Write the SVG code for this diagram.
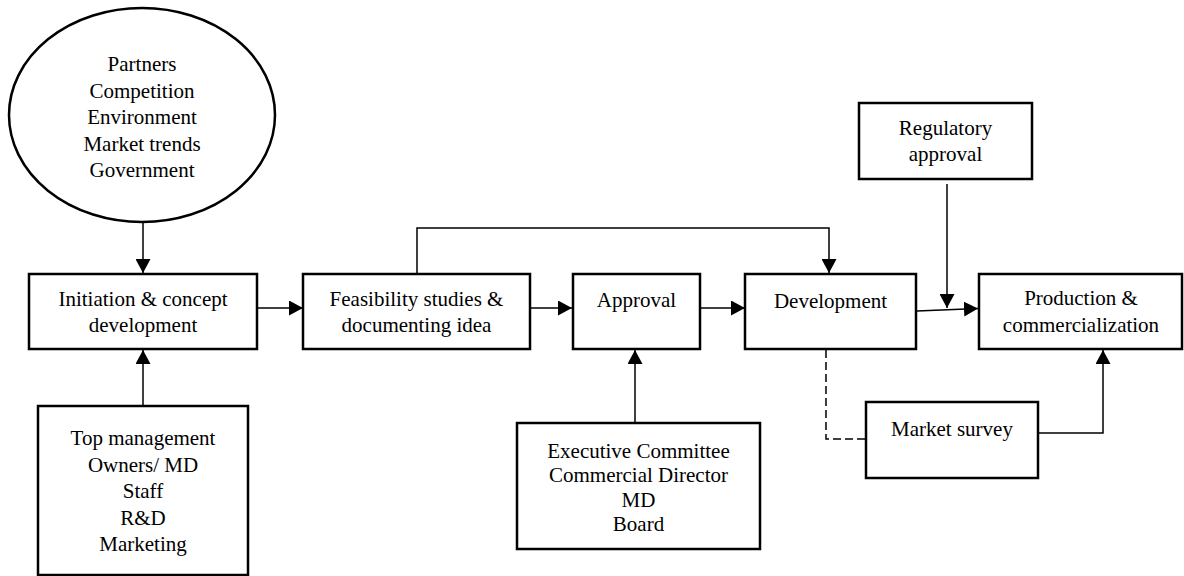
<svg xmlns="http://www.w3.org/2000/svg" width="1184" height="576" viewBox="0 0 1184 576">
  <style>
    .box { fill: #fff; stroke: #000; stroke-width: 2.5; }
    .lbl { font-family: "Liberation Serif", "Times New Roman", serif; font-size: 21px; fill: #000; text-anchor: middle; }
    .conn { fill: none; stroke: #000; stroke-width: 1.5; }
    .dash { stroke-dasharray: 8 4; }
  </style>
  <defs>
    <marker id="arrow" markerUnits="userSpaceOnUse" markerWidth="15" markerHeight="15" refX="14" refY="7.5" orient="auto">
      <path d="M0,0 L14,7.5 L0,15 Z" fill="#000"/>
    </marker>
  </defs>
  <rect width="1184" height="576" fill="#fff"/>

  <!-- connectors -->
  <g id="connectors">
    <path class="conn" d="M143,222 V273" marker-end="url(#arrow)"/>
    <path class="conn" d="M143,406 V350" marker-end="url(#arrow)"/>
    <path class="conn" d="M257,308 H303" marker-end="url(#arrow)"/>
    <path class="conn" d="M530,308 H572" marker-end="url(#arrow)"/>
    <path class="conn" d="M700,308 H745" marker-end="url(#arrow)"/>
    <path class="conn" d="M417,274 V228 H829 V273" marker-end="url(#arrow)"/>
    <path class="conn" d="M917,311 L978,308.5" marker-end="url(#arrow)"/>
    <path class="conn" d="M947,184 V308" marker-end="url(#arrow)"/>
    <path class="conn" d="M635,423 V350" marker-end="url(#arrow)"/>
    <path class="conn" d="M1038,433 H1103 V350" marker-end="url(#arrow)"/>
    <path class="conn dash" d="M826,350 V439 H866"/>
  </g>

  <!-- external factors -->
  <g id="external-factors">
    <ellipse class="box" cx="142" cy="115" rx="133" ry="107"/>
    <text class="lbl" x="142" y="71">Partners</text>
    <text class="lbl" x="142" y="97.5">Competition</text>
    <text class="lbl" x="142" y="124">Environment</text>
    <text class="lbl" x="142" y="150.5">Market trends</text>
    <text class="lbl" x="142" y="177">Government</text>
  </g>

  <g id="initiation">
    <rect class="box" x="29" y="274" width="228" height="75"/>
    <text class="lbl" x="143" y="306">Initiation &amp; concept</text>
    <text class="lbl" x="143" y="332">development</text>
  </g>

  <g id="internal-actors">
    <rect class="box" x="38" y="406" width="210" height="169"/>
    <text class="lbl" x="143" y="445">Top management</text>
    <text class="lbl" x="143" y="471.5">Owners/ MD</text>
    <text class="lbl" x="143" y="498">Staff</text>
    <text class="lbl" x="143" y="524.5">R&amp;D</text>
    <text class="lbl" x="143" y="551">Marketing</text>
  </g>

  <g id="feasibility">
    <rect class="box" x="303" y="274" width="227" height="75"/>
    <text class="lbl" x="416.5" y="306">Feasibility studies &amp;</text>
    <text class="lbl" x="416.5" y="332">documenting idea</text>
  </g>

  <g id="approval">
    <rect class="box" x="573" y="274" width="127" height="75"/>
    <text class="lbl" x="636.5" y="307">Approval</text>
  </g>

  <g id="approvers">
    <rect class="box" x="517" y="423" width="243" height="126"/>
    <text class="lbl" x="638.5" y="458">Executive Committee</text>
    <text class="lbl" x="638.5" y="482">Commercial Director</text>
    <text class="lbl" x="638.5" y="506.5">MD</text>
    <text class="lbl" x="638.5" y="531">Board</text>
  </g>

  <g id="development">
    <rect class="box" x="745" y="274" width="171" height="75"/>
    <text class="lbl" x="830.5" y="308">Development</text>
  </g>

  <g id="regulatory-approval">
    <rect class="box" x="859" y="103" width="173" height="76"/>
    <text class="lbl" x="945.5" y="135">Regulatory</text>
    <text class="lbl" x="945.5" y="161">approval</text>
  </g>

  <g id="production">
    <rect class="box" x="979" y="274" width="203" height="75"/>
    <text class="lbl" x="1081" y="305">Production &amp;</text>
    <text class="lbl" x="1081" y="332">commercialization</text>
  </g>

  <g id="market-survey">
    <rect class="box" x="866" y="402" width="172" height="76"/>
    <text class="lbl" x="952" y="436">Market survey</text>
  </g>
</svg>
